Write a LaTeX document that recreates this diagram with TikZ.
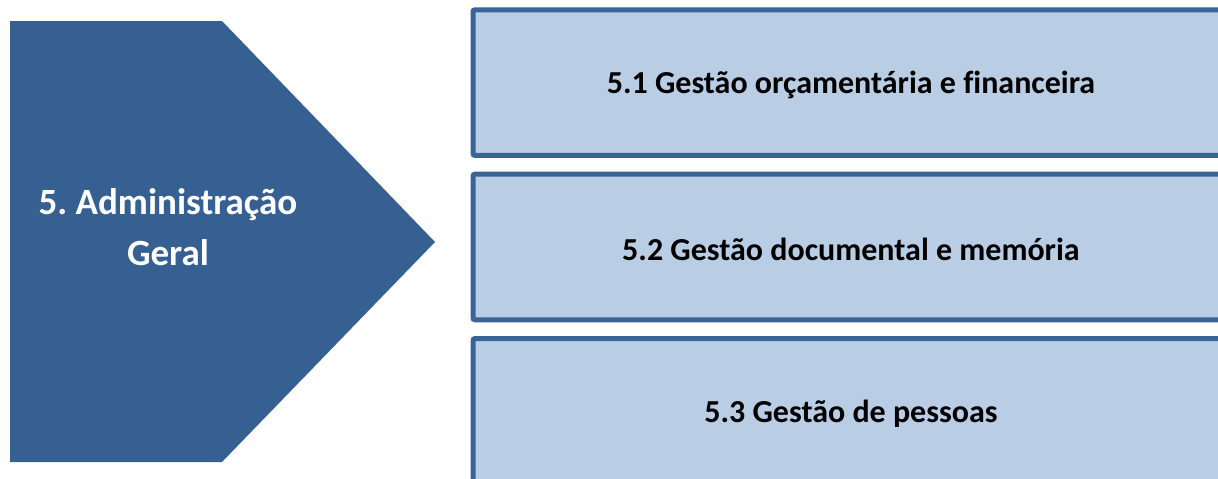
\documentclass[tikz,border=0pt]{standalone}
\usepackage{fontspec}
\setmainfont{Carlito}[Ligatures={TeX,NoCommon}]
\definecolor{dark}{HTML}{376092}
\definecolor{light}{HTML}{B9CDE5}
\definecolor{edge}{HTML}{3A6396}
\frenchspacing
\newcommand{\dropby}[1]{\raisebox{-2.5pt}[\height][\depth]{#1}}
\begin{document}
\begin{tikzpicture}[x=1pt,y=-1pt,
  box/.style={draw=edge, fill=light, line width=5pt, rounded corners=2pt, outer sep=0pt,
    minimum width=756pt, minimum height=145.7pt, inner sep=0pt,
    font=\bfseries\fontsize{32}{38}\selectfont, text=black},
  head/.style={align=center, text=white, inner sep=0pt,
    font=\bfseries\fontsize{37}{51}\selectfont}]
\useasboundingbox (0,0) rectangle (1218,479);
\clip (0,0) rectangle (1218,479);
\fill[dark] (10,21) -- (222,21) -- (435,242) -- (222,462) -- (10,462) -- cycle;
\node[head] (main) at (168,227) {5. Administração\\Geral};
\node[box] (b1) at (851,82.6) {\dropby{5.1 Gestão orçamentária e financeira}};
\node[box] (b2) at (851,247) {\dropby{5.2 Gestão documental e memória}};
\node[box] (b3) at (851,411.4) {\dropby{5.3 Gestão de pessoas}};
\end{tikzpicture}
\end{document}
